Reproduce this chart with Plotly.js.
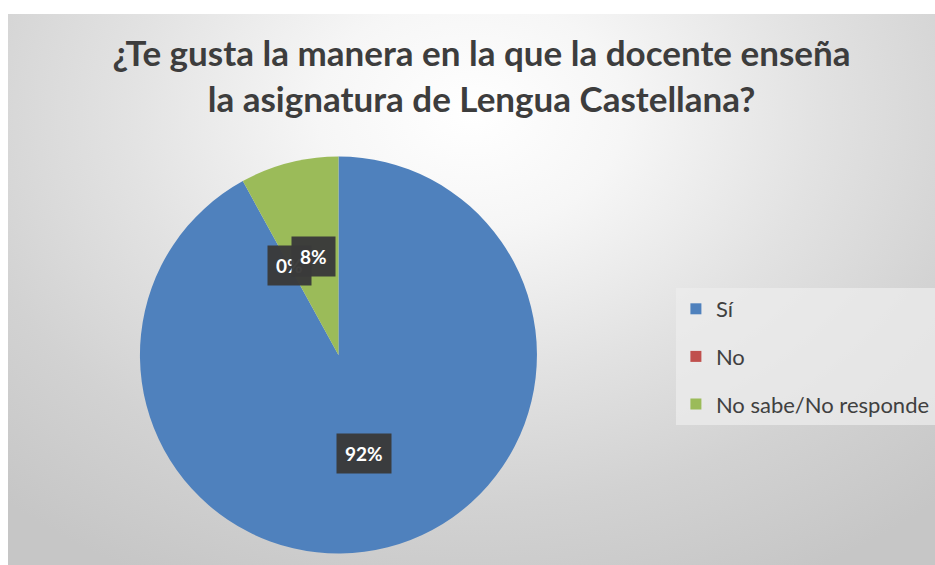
<!DOCTYPE html>
<html>
<head>
<meta charset="utf-8">
<script src="https://cdn.plot.ly/plotly-3.0.1.min.js"></script>
<style>
  html, body { margin: 0; padding: 0; background: #ffffff; }
  #wrap { position: relative; width: 935px; height: 565px; overflow: hidden; }
  #bg { position: absolute; left: 8px; top: 14px; right: 0; bottom: 0;
        background: radial-gradient(ellipse 75% 95% at 50% 18%, #ffffff 0%, #f6f6f6 22%, #e2e2e2 50%, #d2d2d2 75%, #c6c6c6 100%); }
  #chart { position: absolute; left: 0; top: 0; width: 935px; height: 565px; }
</style>
</head>
<body>
<div id="wrap"><div id="bg"></div><div id="chart"></div></div>
<script>
// ---- data ----
const categories = ["Sí", "No", "No sabe/No responde"];
const values = [92, 0, 8];
const colors = ["#4F81BD", "#C0504D", "#9BBB59"];
const titleText = "¿Te gusta la manera en la que la docente enseña<br>la asignatura de Lengua Castellana?";

// ---- layout constants ----
const W = 935, H = 565;
const FONT = "Lato, 'Open Sans', sans-serif";
const pieDomain = { x: [141 / W, 541 / W], y: [1 - 555 / H, 1 - 155 / H] };
const labelFrac = 0.51;

// pie geometry derived from the domain (margins are zero)
const px0 = pieDomain.x[0] * W, px1 = pieDomain.x[1] * W;
const py0 = (1 - pieDomain.y[1]) * H, py1 = (1 - pieDomain.y[0]) * H;
const cx = (px0 + px1) / 2, cy = (py0 + py1) / 2;
const R = Math.min(px1 - px0, py1 - py0) / 2;

const total = values.reduce((a, b) => a + b, 0);
let cum = 0;
const annotations = values.map((v, i) => {
  const a0 = cum / total * 2 * Math.PI;
  cum += v;
  const a1 = cum / total * 2 * Math.PI;
  const mid = (a0 + a1) / 2;
  const x = cx + labelFrac * R * Math.sin(mid);
  const y = cy - labelFrac * R * Math.cos(mid);
  return {
    x: x / W, y: 1 - y / H, xref: "paper", yref: "paper",
    xanchor: "center", yanchor: "middle",
    text: Math.round(v / total * 100) + "%",
    showarrow: false,
    font: { family: FONT, size: 19, color: "#ffffff", weight: "bold" },
    bgcolor: "rgba(58,58,58,0.97)",
    borderpad: 8
  };
});

const traces = [{
  type: "pie",
  labels: categories,
  values: values,
  sort: false,
  direction: "clockwise",
  rotation: 0,
  textinfo: "none",
  hoverinfo: "label+percent",
  marker: { colors: colors, line: { width: 0 } },
  domain: pieDomain,
  showlegend: false
}];

categories.forEach((c, i) => {
  traces.push({
    type: "scatter", mode: "markers",
    x: [null], y: [null],
    name: c,
    legendgroup: "g" + i,
    showlegend: true,
    hoverinfo: "skip",
    marker: { symbol: "square", size: 11, color: colors[i] }
  });
});

const layout = {
  width: W, height: H, autosize: false,
  margin: { l: 0, r: 0, t: 0, b: 0 },
  paper_bgcolor: "rgba(0,0,0,0)",
  plot_bgcolor: "rgba(0,0,0,0)",
  xaxis: { visible: false }, yaxis: { visible: false },
  title: {
    text: titleText,
    font: { family: FONT, size: 35, color: "#3d3d3d", weight: "bold" },
    x: 0.515, xanchor: "center", xref: "container",
    y: 1 - 66 / H, yanchor: "top", yref: "container"
  },
  legend: {
    x: 681 / W, xanchor: "left",
    y: 1 - 288 / H, yanchor: "top",
    bgcolor: "rgba(236,236,236,0.75)",
    borderwidth: 0,
    font: { family: FONT, size: 22, color: "#404040" },
    tracegroupgap: 16,
    itemwidth: 30
  },
  annotations: annotations
};

Plotly.newPlot("chart", traces, layout, { displayModeBar: false, staticPlot: true });
</script>
</body>
</html>
